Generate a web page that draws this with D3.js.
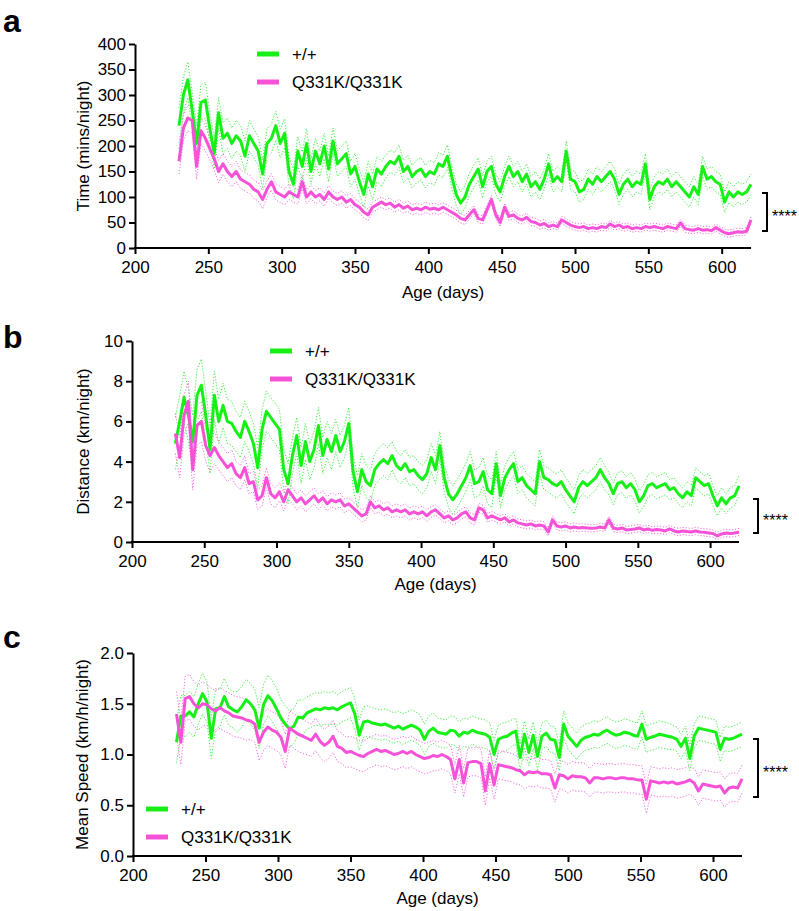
<!DOCTYPE html>
<html><head><meta charset="utf-8">
<script src="https://cdn.jsdelivr.net/npm/d3@7/dist/d3.min.js"></script>
<style>
html,body{margin:0;padding:0;background:#fff;}
svg{display:block;font-family:"Liberation Sans",Arial,Helvetica,sans-serif;}
</style></head>
<body>
<svg id="chart" width="799" height="911"></svg>
<script>
// ---------- DATA ----------
const days = [230,233,236,239,242,245,248,251,254,257,260,263,266,269,272,275,278,281,284,287,290,293,296,299,302,305,308,311,314,317,320,323,326,329,332,335,338,341,344,347,350,353,356,359,362,365,368,371,374,377,380,383,386,389,392,395,398,401,404,407,410,413,416,419,422,425,428,431,434,437,440,443,446,449,452,455,458,461,464,467,470,473,476,479,482,485,488,491,494,497,500,503,506,509,512,515,518,521,524,527,530,533,536,539,542,545,548,551,554,557,560,563,566,569,572,575,578,581,584,587,590,593,596,599,602,605,608,611,614,617,620];
const semDays = [230,240,250,260,270,280,290,300,310,320,330,340,350,360,370,380,390,400,410,420,430,440,450,460,470,480,490,500,510,520,530,540,550,560,570,580,590,600,610,620];
const xTicks = [200,250,300,350,400,450,500,550,600];
const seriesNames = ["+/+","Q331K/Q331K"];

// Panel a: Time (mins/night)
const timeWT = [240,300,330,270,205,285,290,235,185,265,215,225,205,220,210,180,220,205,190,145,205,215,240,205,225,150,125,190,160,205,150,190,165,200,155,210,165,175,185,145,160,130,105,145,120,155,145,160,170,165,180,150,160,140,150,155,140,150,145,165,160,180,140,105,88,100,125,140,155,120,150,160,125,110,140,160,140,150,130,145,120,130,115,135,165,130,140,130,190,135,130,110,115,135,125,140,130,140,150,135,105,125,135,120,130,125,165,95,120,130,125,135,120,130,120,110,100,120,105,160,135,140,130,125,90,110,100,110,105,110,125];
const timeQK = [170,235,255,250,160,230,215,195,175,150,165,150,140,150,135,130,125,115,110,95,115,130,110,105,100,110,105,100,130,100,110,100,105,95,110,100,95,100,90,95,85,80,70,65,80,85,90,85,88,80,85,78,82,75,78,75,80,76,78,75,80,75,70,65,58,55,65,75,58,55,75,95,65,50,80,62,65,58,55,60,52,50,45,48,42,45,42,55,50,45,42,40,42,38,40,38,42,40,47,42,45,40,42,38,40,38,42,40,42,40,38,42,40,38,49,38,36,35,38,35,36,34,40,35,30,28,30,32,31,33,55];
const timeWTsem = [35,35,30,30,30,28,28,28,28,25,25,25,25,25,22,22,22,22,22,22,22,20,20,20,20,20,20,20,20,20,20,20,20,20,20,20,20,20,20,20];
const timeQKsem = [25,25,22,20,18,18,16,15,14,13,12,12,11,10,10,10,10,10,9,9,8,8,8,8,8,7,7,7,7,7,7,7,7,7,7,7,7,7,7,7];
const timeYTicks = [0,50,100,150,200,250,300,350,400];

// Panel b: Distance (km/night)
const distWT = [4.9,6.0,7.2,6.3,5.0,7.3,7.8,6.3,4.6,7.3,6.0,6.8,6.0,5.9,5.5,5.2,6.0,5.5,4.9,3.7,5.6,6.5,6.2,5.9,5.6,3.6,2.9,4.3,5.3,3.8,5.0,4.0,4.6,5.8,4.3,5.1,4.5,5.3,4.5,5.0,5.9,3.5,2.5,3.6,3.0,2.8,3.6,3.9,4.1,3.9,4.3,3.8,3.6,3.9,3.5,3.6,3.3,3.1,3.4,4.2,3.6,4.8,3.2,2.4,2.1,2.4,2.8,3.2,3.8,2.9,3.0,3.5,2.6,2.4,3.9,2.3,3.2,3.6,3.9,3.0,3.2,2.8,2.6,2.4,4.0,3.2,3.1,2.9,2.8,3.0,2.6,2.3,2.0,2.7,3.0,2.8,3.0,3.2,3.6,3.2,2.9,2.4,2.9,3.0,2.7,2.9,2.6,2.0,2.3,2.8,2.9,2.7,2.8,2.9,2.6,2.7,2.4,2.2,2.5,2.3,3.2,3.0,2.8,2.9,2.3,1.8,2.2,1.9,2.2,2.3,2.8];
const distQK = [5.4,4.2,6.3,7.0,3.6,5.8,6.0,4.8,4.3,4.7,4.3,4.0,3.7,3.9,3.4,3.2,3.7,2.9,3.0,2.1,2.3,3.2,2.4,2.2,2.5,2.0,2.6,2.3,2.0,2.2,1.9,2.1,2.3,2.0,2.2,1.9,2.1,2.0,2.1,1.8,1.9,1.7,1.5,1.3,1.4,2.0,1.7,1.8,1.6,1.7,1.5,1.6,1.5,1.6,1.4,1.5,1.4,1.5,1.3,1.5,1.6,1.4,1.2,1.3,1.1,1.2,1.4,1.5,1.2,1.1,1.7,1.6,1.2,1.3,1.2,1.1,1.2,1.0,1.1,0.95,0.9,0.85,0.9,0.8,0.85,0.8,0.5,1.1,0.8,0.75,0.8,0.7,0.75,0.7,0.72,0.7,0.68,0.7,0.75,0.7,1.1,0.7,0.65,0.7,0.6,0.62,0.65,0.7,0.6,0.65,0.58,0.62,0.6,0.55,0.65,0.55,0.5,0.55,0.52,0.5,0.55,0.5,0.48,0.45,0.42,0.3,0.4,0.45,0.42,0.45,0.5];
const distWTsem = [1.3,1.3,1.2,1.1,1.0,1.0,1.0,1.0,0.9,0.9,0.9,0.8,0.8,0.8,0.8,0.7,0.7,0.7,0.7,0.7,0.7,0.7,0.6,0.6,0.6,0.6,0.6,0.6,0.6,0.6,0.55,0.55,0.55,0.55,0.5,0.5,0.5,0.5,0.5,0.5];
const distQKsem = [1.0,1.0,0.8,0.7,0.6,0.5,0.5,0.45,0.4,0.4,0.35,0.35,0.3,0.3,0.3,0.3,0.3,0.28,0.25,0.25,0.25,0.22,0.2,0.2,0.2,0.2,0.2,0.2,0.18,0.18,0.18,0.18,0.18,0.18,0.18,0.18,0.18,0.18,0.18,0.18];
const distYTicks = [0,2,4,6,8,10];

// Panel c: Mean Speed (km/h/night)
const speedWT = [1.12,1.38,1.38,1.42,1.37,1.50,1.60,1.52,1.16,1.45,1.46,1.57,1.47,1.44,1.42,1.47,1.54,1.50,1.44,1.26,1.49,1.58,1.53,1.45,1.36,1.30,1.25,1.28,1.37,1.36,1.41,1.43,1.45,1.44,1.46,1.45,1.46,1.44,1.47,1.49,1.51,1.40,1.19,1.32,1.33,1.31,1.30,1.29,1.30,1.28,1.26,1.28,1.25,1.27,1.29,1.27,1.24,1.15,1.23,1.26,1.22,1.21,1.20,1.24,1.23,1.18,1.22,1.21,1.24,1.22,1.21,1.20,1.17,1.00,1.15,1.17,1.18,1.21,1.23,0.97,1.20,1.02,1.19,0.98,1.18,1.21,1.15,1.14,0.97,1.30,1.18,1.13,1.08,1.14,1.17,1.18,1.20,1.19,1.22,1.24,1.21,1.19,1.20,1.22,1.21,1.19,1.18,1.30,1.15,1.17,1.18,1.20,1.19,1.18,1.17,1.15,1.08,1.16,0.96,1.18,1.26,1.25,1.24,1.23,1.22,1.05,1.16,1.15,1.16,1.18,1.20];
const speedQK = [1.40,1.12,1.55,1.57,1.50,1.46,1.50,1.49,1.45,1.43,1.46,1.43,1.41,1.38,1.37,1.36,1.34,1.33,1.30,1.12,1.22,1.27,1.24,1.22,1.17,1.03,1.26,1.23,1.20,1.18,1.16,1.14,1.20,1.13,1.09,1.12,1.18,1.08,1.06,1.02,1.03,1.01,0.99,0.98,1.01,1.03,1.05,1.03,1.04,1.02,1.00,1.01,1.03,1.01,1.03,1.00,0.98,0.96,0.97,0.99,0.98,1.00,0.98,0.95,0.76,0.95,0.72,0.92,0.93,0.93,0.91,0.64,0.91,0.70,0.90,0.89,0.88,0.87,0.85,0.84,0.80,0.83,0.82,0.83,0.81,0.81,0.80,0.67,0.80,0.79,0.76,0.79,0.78,0.78,0.77,0.72,0.77,0.77,0.76,0.77,0.77,0.76,0.77,0.77,0.76,0.76,0.75,0.75,0.56,0.74,0.73,0.72,0.73,0.72,0.73,0.71,0.72,0.73,0.75,0.72,0.64,0.71,0.70,0.69,0.68,0.69,0.62,0.67,0.68,0.67,0.76];
const speedWTsem = [0.2,0.2,0.2,0.18,0.2,0.2,0.2,0.18,0.17,0.16,0.16,0.15,0.15,0.15,0.15,0.15,0.15,0.15,0.14,0.14,0.14,0.14,0.14,0.13,0.13,0.13,0.13,0.13,0.13,0.13,0.13,0.13,0.13,0.13,0.12,0.12,0.12,0.12,0.12,0.12];
const speedQKsem = [0.22,0.22,0.2,0.2,0.2,0.18,0.18,0.17,0.17,0.16,0.16,0.15,0.15,0.15,0.15,0.15,0.15,0.15,0.14,0.14,0.14,0.14,0.14,0.14,0.14,0.14,0.14,0.14,0.14,0.14,0.14,0.14,0.14,0.14,0.14,0.14,0.14,0.14,0.14,0.14];
const speedYTicks = [0.0,0.5,1.0,1.5,2.0];

// ---------- STYLE ----------
const GREEN = "#17f017";
const MAGENTA = "#f552d8";
const FONT = 17;

const svg = d3.select("#chart");

function semAt(semArr, day) {
  // step lookup: the block whose start day is the last one <= day
  const i = d3.bisectRight(semDays, day) - 1;
  return semArr[Math.max(0, Math.min(semArr.length - 1, i))];
}

function panel(cfg) {
  const x = d3.scaleLinear().domain([200, 620]).range(cfg.xr);
  const y = d3.scaleLinear().domain([0, cfg.yTicks[cfg.yTicks.length - 1]]).range(cfg.yr);
  const g = svg.append("g");

  // axes
  const xa = g.append("g").attr("transform", `translate(0,${cfg.yr[0]})`)
    .call(d3.axisBottom(x).tickValues(xTicks).tickSize(6).tickSizeOuter(0).tickPadding(7).tickFormat(d3.format("d")));
  const ya = g.append("g").attr("transform", `translate(${cfg.xr[0]},0)`)
    .call(d3.axisLeft(y).tickValues(cfg.yTicks).tickSize(6).tickSizeOuter(0).tickPadding(3).tickFormat(cfg.yFmt));
  [xa, ya].forEach(a => {
    a.select(".domain").attr("stroke", "#000").attr("stroke-width", 2);
    a.selectAll(".tick line").attr("stroke", "#000").attr("stroke-width", 2);
    a.selectAll(".tick text").attr("font-size", FONT).attr("fill", "#000")
      .attr("font-family", '"Liberation Sans",Arial,sans-serif');
  });
  // extend axis lines to meet in the corner
  xa.select(".domain").attr("d", `M${cfg.xr[0] - 1},0H${cfg.xr[1]}`);

  // titles
  g.append("text").attr("x", (cfg.xr[0] + cfg.xr[1]) / 2).attr("y", cfg.xTitleY)
    .attr("text-anchor", "middle").attr("font-size", FONT).text("Age (days)");
  g.append("text").attr("transform", `translate(${cfg.yTitleX},${(cfg.yr[0] + cfg.yr[1]) / 2}) rotate(-90)`)
    .attr("text-anchor", "middle").attr("font-size", FONT).text(cfg.yTitle);
  svg.append("text").attr("x", 3).attr("y", cfg.labelY).attr("font-size", 32)
    .attr("font-weight", "bold").text(cfg.label);

  // series
  const series = [
    {vals: cfg.wt, sem: cfg.wtSem, color: GREEN},
    {vals: cfg.qk, sem: cfg.qkSem, color: MAGENTA}
  ];
  const line = d3.line().x(d => x(d[0])).y(d => y(d[1]));
  series.forEach(s => {
    const up = days.map((d, i) => [d, s.vals[i] + semAt(s.sem, d)]);
    const lo = days.map((d, i) => [d, Math.max(0, s.vals[i] - semAt(s.sem, d))]);
    [up, lo].forEach(b => g.append("path").datum(b).attr("d", line)
      .attr("fill", "none").attr("stroke", s.color).attr("stroke-width", 1)
      .attr("stroke-dasharray", "1.2,1.8").attr("opacity", 0.85));
  });
  series.forEach(s => {
    g.append("path").datum(days.map((d, i) => [d, s.vals[i]])).attr("d", line)
      .attr("fill", "none").attr("stroke", s.color).attr("stroke-width", 3)
      .attr("stroke-linejoin", "round");
  });

  // legend
  const L = cfg.legend;
  seriesNames.forEach((name, i) => {
    const yy = L.y + i * L.dy;
    g.append("line").attr("x1", L.x).attr("x2", L.x + 22).attr("y1", yy).attr("y2", yy)
      .attr("stroke", series[i].color).attr("stroke-width", 5);
    g.append("text").attr("x", L.x + 35).attr("y", yy + 6).attr("font-size", FONT).text(name);
  });

  // significance bracket
  const B = cfg.bracket;
  g.append("path").attr("d", `M${B.x - 5},${B.y1}H${B.x}V${B.y2}H${B.x - 5}`)
    .attr("fill", "none").attr("stroke", "#000").attr("stroke-width", 2);
  g.append("text").attr("x", B.x + 5).attr("y", (B.y1 + B.y2) / 2 + 10)
    .attr("font-size", 16).text("****");
}

panel({
  xr: [135, 751], yr: [248, 44], yTicks: timeYTicks, yFmt: d3.format("d"),
  wt: timeWT, qk: timeQK, wtSem: timeWTsem, qkSem: timeQKsem,
  yTitle: "Time (mins/night)", yTitleX: 89, xTitleY: 298, label: "a", labelY: 32,
  legend: {x: 257, y: 54, dy: 28}, bracket: {x: 767, y1: 193, y2: 231}
});
panel({
  xr: [132, 739], yr: [542, 341], yTicks: distYTicks, yFmt: d3.format("d"),
  wt: distWT, qk: distQK, wtSem: distWTsem, qkSem: distQKsem,
  yTitle: "Distance (km/night)", yTitleX: 89, xTitleY: 590, label: "b", labelY: 348,
  legend: {x: 270, y: 351, dy: 28}, bracket: {x: 758, y1: 499, y2: 533}
});
panel({
  xr: [133, 742], yr: [856, 653], yTicks: speedYTicks, yFmt: d3.format(".1f"),
  wt: speedWT, qk: speedQK, wtSem: speedWTsem, qkSem: speedQKsem,
  yTitle: "Mean Speed (km/h/night)", yTitleX: 88, xTitleY: 904, label: "c", labelY: 648,
  legend: {x: 146, y: 809, dy: 28}, bracket: {x: 758, y1: 739, y2: 797}
});
</script>
</body></html>
